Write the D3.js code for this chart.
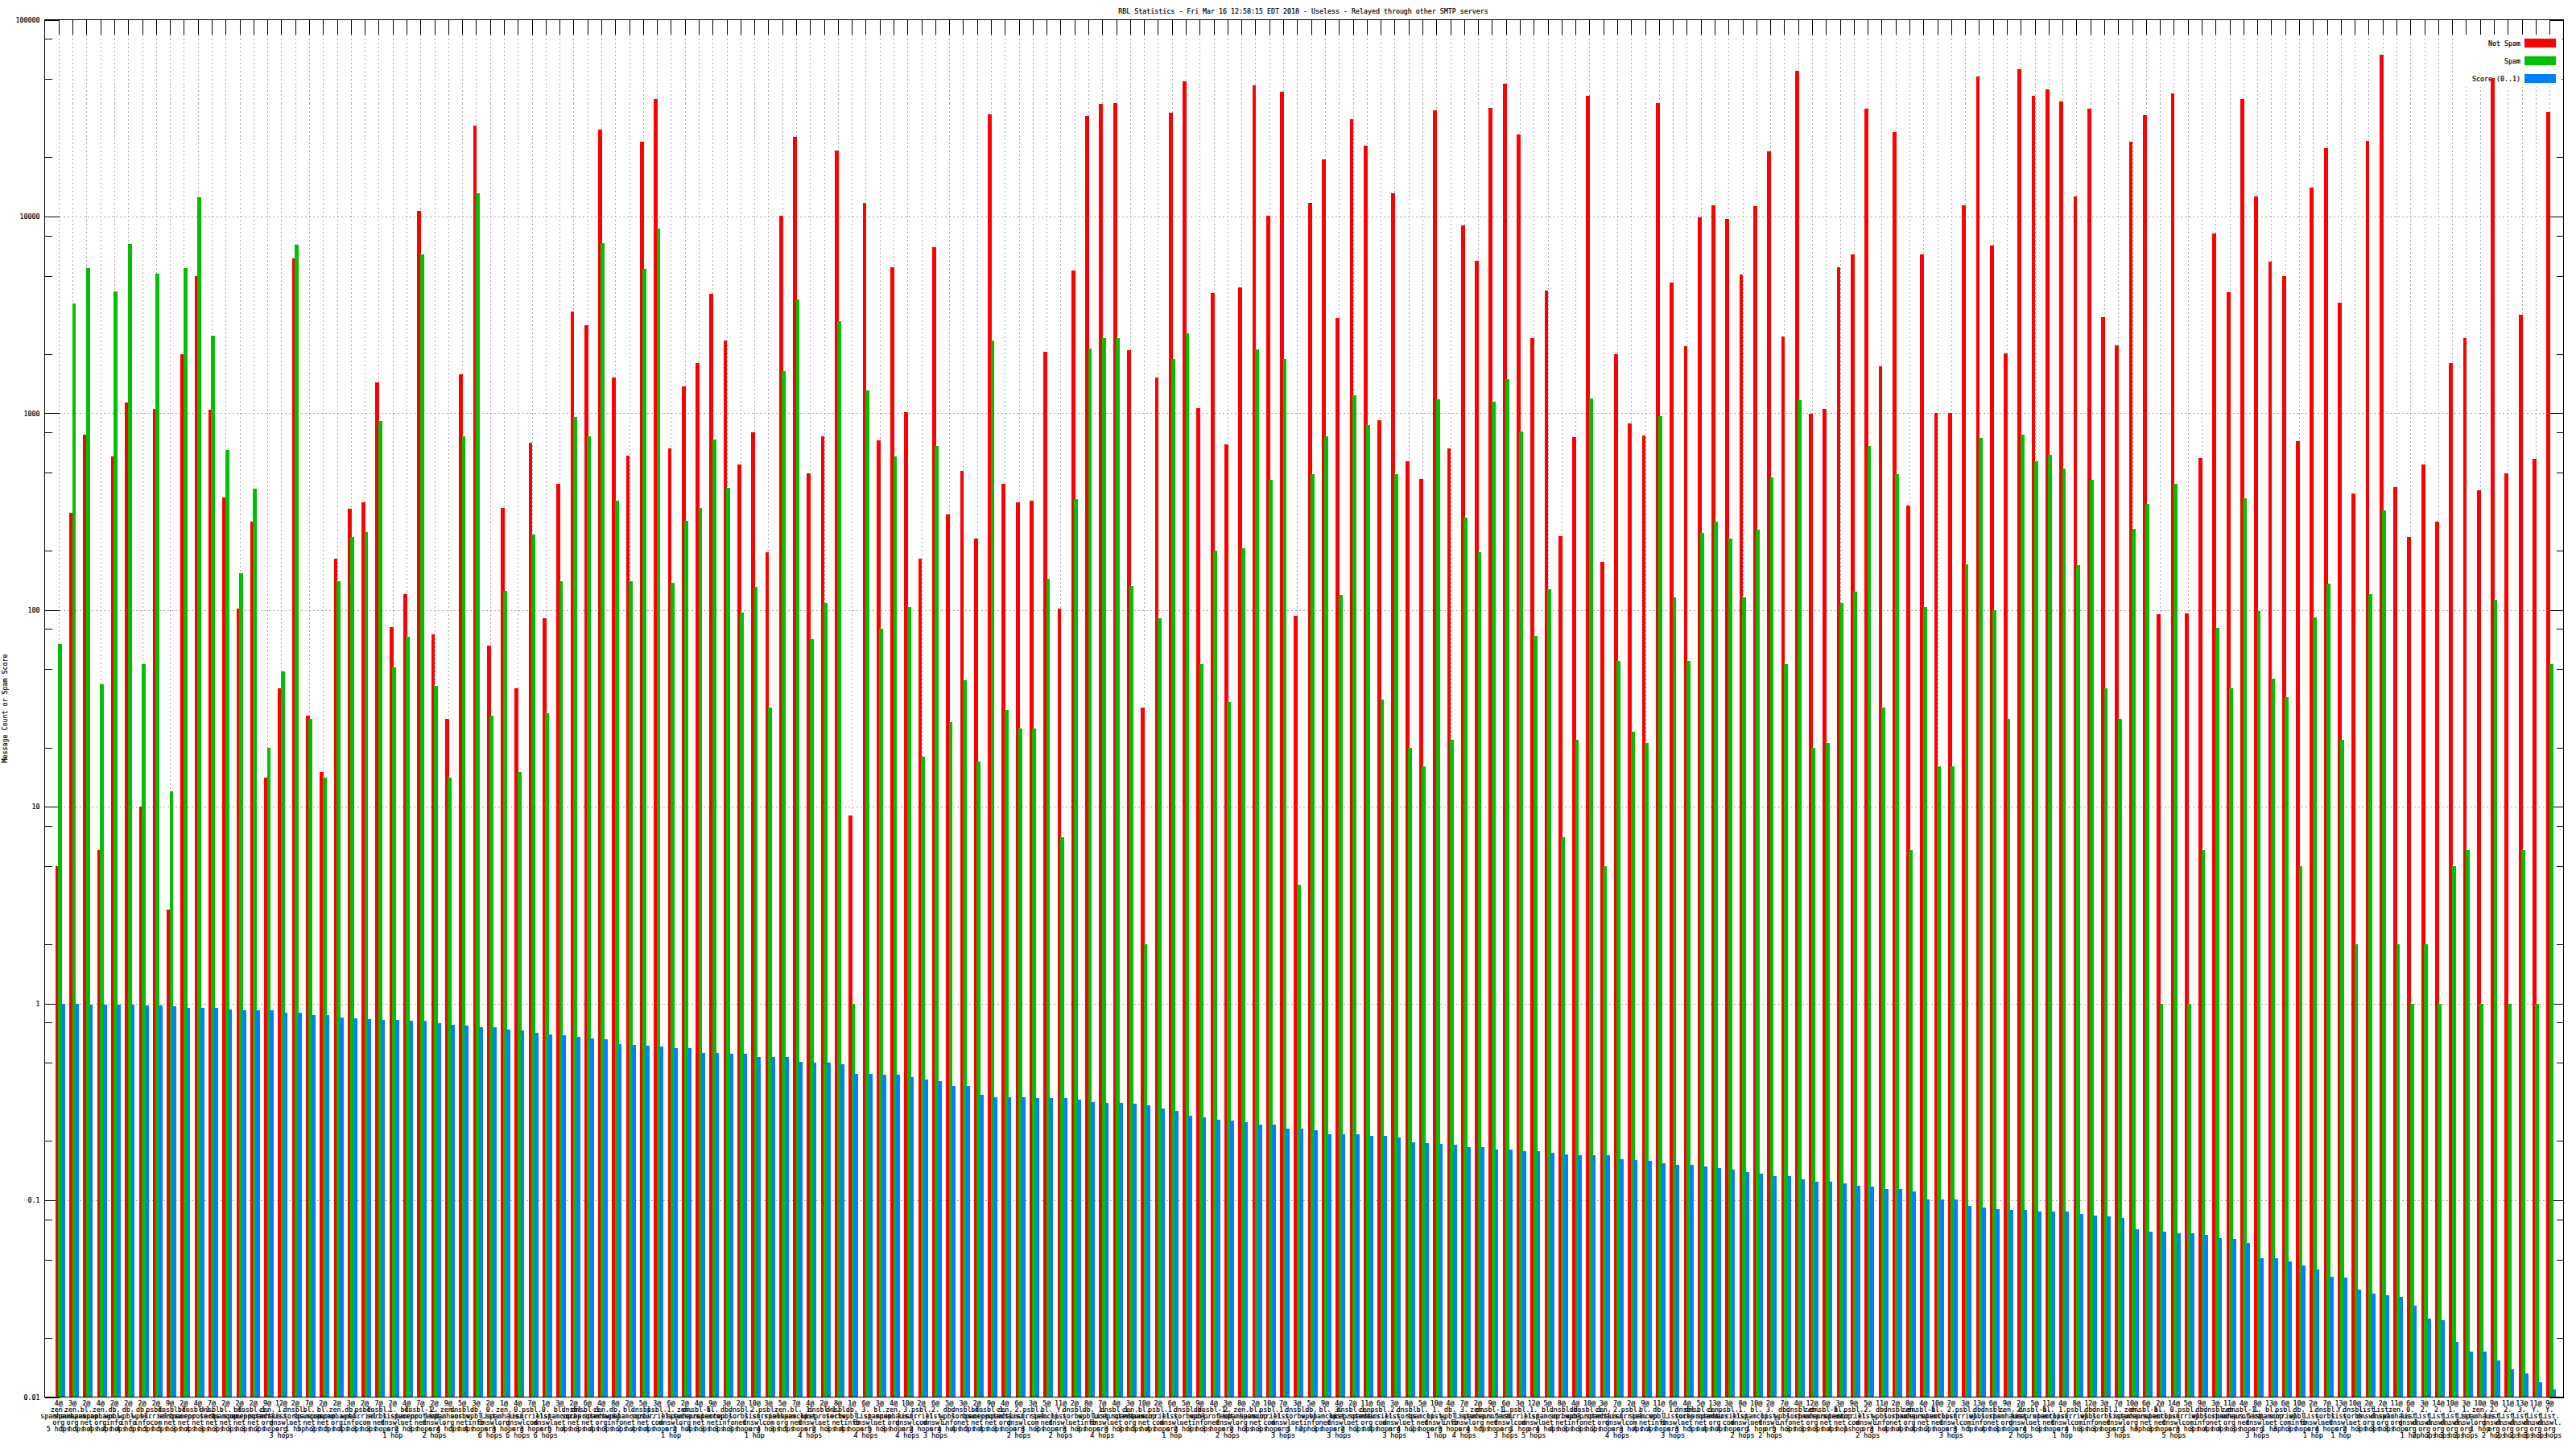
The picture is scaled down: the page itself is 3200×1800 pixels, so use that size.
<!DOCTYPE html>
<html><head><meta charset="utf-8">
<script src="https://cdn.jsdelivr.net/npm/d3@7"></script>
<style>
html,body{margin:0;padding:0;background:#fff}
svg{display:block}
text{font-family:"DejaVu Sans Mono",monospace;font-size:8.3px;fill:#000;stroke:#000;stroke-width:.18px}
</style></head><body><svg id="c" width="3200" height="1800"></svg>
<script>
const notSpam=[5,313,781,6,604,1130,10,1050,3,1990,
4970,1040,373,102,282,14,40,6100,29,15,
182,327,354,1440,82,120,10700,75,28,1570,
29100,66,330,40,705,91,439,3300,2800,27700,
1520,610,24000,39700,663,1375,1800,4050,2350,550,
797,197,10100,25500,497,765,21600,9,11700,727,
5500,1010,182,6980,307,508,230,33000,439,354,
358,2050,102,5340,32300,37300,37700,2090,32,1520,
33600,48700,1060,4100,698,4350,46300,10100,43000,93,
11700,19500,3040,31300,22800,920,13100,568,463,34700,
663,9030,5980,35800,47200,26000,2400,4210,237,758,
40900,176,1990,884,773,37700,4630,2190,9900,11400,
9700,5080,11300,21400,2450,55100,990,1050,5500,6430,
35400,1740,26900,340,6430,1000,1000,11400,51300,7130,
2010,56200,40900,44400,38500,12700,35400,3090,2210,24000,
32600,95,42100,96,592,8230,4130,39700,12700,5920,
4970,720,14000,22300,3660,391,24200,66300,421,235,
550,280,1800,2420,405,50700,497,3160,586,34000];
const spam=[67,3620,5450,42,4170,7270,53,5130,12,5450,
12550,2470,650,154,413,20,49,7200,28,14,
140,235,250,910,51,73,6430,41,14,765,
13100,29,125,15,242,30,140,960,765,7350,
358,140,5400,8650,138,285,330,735,417,97,
131,32,1640,3770,71,109,2950,1,1310,80,
604,104,18,680,27,44,17,2350,31,25,
25,144,7,366,2140,2420,2420,133,2,91,
1890,2550,53,201,34,207,2120,458,1880,4,
492,765,119,1230,875,35,492,20,16,1180,
22,295,197,1140,1490,805,74,128,7,22,
1190,5,55,24,21,970,116,55,247,280,
230,116,255,472,53,1170,20,21,109,124,
685,32,492,6,104,16,16,170,750,100,
28,781,568,617,523,169,458,40,28,258,
347,1,439,1,6,81,40,369,99,45,
36,5,92,136,22,2,120,320,2,1,
2,1,5,6,1,113,1,6,1,53];
const score=[1,1,.99,.99,.99,.99,.98,.98,.97,.95,
.95,.95,.93,.921,.921,.921,.902,.902,.875,.875,
.848,.839,.83,.822,.822,.814,.814,.797,.781,.773,
.758,.758,.735,.727,.712,.698,.69,.676,.663,.656,
.623,.617,.61,.604,.592,.592,.562,.562,.557,.557,
.534,.534,.534,.507,.502,.502,.492,.439,.439,.435,
.435,.422,.413,.404,.38,.38,.343,.333,.333,.333,
.33,.33,.33,.326,.316,.313,.313,.31,.304,.294,
.285,.268,.263,.257,.255,.25,.242,.242,.232,.232,
.228,.216,.216,.216,.212,.212,.209,.197,.195,.193,
.191,.187,.187,.182,.182,.178,.178,.174,.172,.17,
.169,.169,.162,.16,.159,.154,.151,.151,.149,.146,
.143,.139,.136,.133,.133,.128,.124,.124,.122,.119,
.118,.114,.114,.111,.101,.101,.101,.094,.092,.09,
.089,.089,.088,.088,.0875,.085,.084,.083,.081,.071,
.069,.069,.068,.068,.067,.064,.0636,.061,.0507,.0507,
.0487,.0467,.0444,.0409,.0405,.0351,.0337,.033,.0323,.0292,
.025,.0245,.0191,.0171,.0171,.0153,.0139,.0132,.0119,.0109];
const labelCounts=[4,3,2,4,2,2,2,2,9,2,4,7,2,2,2,9,12,2,7,2,
2,3,2,7,2,4,7,2,9,5,3,2,1,4,7,1,3,2,6,4,
8,2,5,3,6,2,4,9,3,2,10,3,5,7,4,2,8,1,6,3,
4,10,2,6,5,3,2,9,4,6,3,5,11,2,8,7,4,3,10,2,
6,5,9,4,3,8,2,10,7,3,5,9,4,2,11,6,3,8,5,10,
4,7,2,9,6,3,12,5,8,4,10,3,7,2,9,11,6,4,5,13,
3,8,10,2,7,4,12,6,3,9,5,11,2,8,4,10,7,3,13,6,
9,2,5,11,4,8,12,3,7,10,6,2,14,5,9,3,11,4,8,13,
6,10,2,7,13,10,2,2,11,6,3,14,10,3,10,9,11,13,11,9];
const labelHostKeys="zzbzwwwpsb"+"usbbuz1sbb"+"zwps1bu2zs"+"w0z0p0bsuz"+"wbsp1zubws"+"2pzb1usw3b"+
"z3p2wsbuz2"+"pbYsw1uzbp"+"1swu2zbp1s"+"wb3uzp2sb1"+"w3zu1p1bsw"+"uz2pbw1suz"+"p1b3wszubp"+
"2wszub2pws"+"z2ub1pws1z"+"ub0pwszu1b"+"pw1sYsddz0"+"2211z223YY";
const labelHops="5554445553"+"4333323152"+"5433123245"+"4636365434"+"3244124333"+"1435423445"+
"3423445432"+"3323343354"+"1233223331"+"2332243421"+"3445315443"+"3243443354"+"4212533341"+
"2344423354"+"3243143331"+"3353344331"+"3314123331"+"2233122233";
const hostNames={z:"zen.spamhaus.org",b:"bl.spamcop.net",w:"db.wpbl.info",p:"psbl.surriel.com",
s:"dnsbl.sorbs.net",u:"dnsbl-1.uceprotect.net",d:"list.dnswl.org","0":"0.list.dnswl.org",
"1":"1.list.dnswl.org","2":"2.list.dnswl.org","3":"3.list.dnswl.org",Y:"Y.list.dnswl.org"};
const yMajor=[100000,10000,1000,100,10,1,0.1,0.01];
const yMinor=[80000,50000,20000,8000,5000,2000,800,500,200,80,50,20,8,5,2,.8,.5,.2,.08,.05,.02];
const titleText="RBL Statistics - Fri Mar 16 12:58:15 EDT 2018 - Useless - Relayed through other SMTP servers";
const yTitle="Message Count or Spam Score";
const seriesNames=["Not Spam","Spam","Score (0..1)"];
const seriesColors=["#ff0000","#00c000","#0080ff"];

const L=55.5,R=3184.5,T=24.5,B=1735.5;
const svg=d3.select("#c");
const ids=d3.range(1,notSpam.length+1);
const x=d3.scaleLinear().domain([0,181]).range([L,R]);
const y=d3.scaleLog().domain([0.01,100000]).range([B,T]);

// grid
const grid=svg.append("g").attr("stroke","#a8a8a8").attr("shape-rendering","crispEdges");
grid.append("g").attr("stroke-dasharray","2,3").selectAll("line").data(ids).join("line").attr("x1",d=>Math.round(x(d))+.5).attr("x2",d=>Math.round(x(d))+.5).attr("y1",T+18).attr("y2",B);
grid.append("g").attr("stroke-dasharray","2,3").selectAll("line").data(yMajor.slice(1,-1)).join("line").attr("x1",L+18).attr("x2",R-18).attr("y1",d=>Math.round(y(d))+.5).attr("y2",d=>Math.round(y(d))+.5);

// axes
function cleanAxis(g){g.select(".domain").remove();g.selectAll("line").attr("stroke","#000").attr("shape-rendering","crispEdges");g.selectAll("text").attr("fill","#000");g.attr("font-family",null).attr("font-size",null);}
svg.append("g").attr("transform",`translate(${L},0)`).call(d3.axisLeft(y).tickValues(yMajor).tickSizeInner(-18).tickSizeOuter(0).tickPadding(6).tickFormat(d=>String(d))).call(cleanAxis);
svg.append("g").attr("transform",`translate(${L},0)`).call(d3.axisLeft(y).tickValues(yMinor).tickSizeInner(-9).tickSizeOuter(0).tickFormat("")).call(cleanAxis);
svg.append("g").attr("transform",`translate(${R},0)`).call(d3.axisRight(y).tickValues(yMajor).tickSizeInner(-18).tickSizeOuter(0).tickFormat("")).call(cleanAxis);
svg.append("g").attr("transform",`translate(${R},0)`).call(d3.axisRight(y).tickValues(yMinor).tickSizeInner(-9).tickSizeOuter(0).tickFormat("")).call(cleanAxis);
svg.append("g").attr("transform",`translate(0,${T})`).call(d3.axisTop(x).tickValues(ids).tickSizeInner(-18).tickSizeOuter(0).tickFormat("")).call(cleanAxis);

// legend box hides grid and ticks underneath
const leg=svg.append("g");
leg.append("rect").attr("x",3063).attr("y",T+18.5).attr("width",R-18-3063+16).attr("height",108-43).attr("fill","#fff");

// bars
const offsets=[-3.9,-0.5,3.3], barW=4.8;
const base=y(0.01);
[notSpam,spam,score].forEach((vals,s)=>{
  svg.append("g").attr("fill",seriesColors[s]).attr("shape-rendering","crispEdges")
   .selectAll("rect").data(vals).join("rect")
   .attr("x",(d,i)=>x(i+1)+offsets[s]).attr("width",barW)
   .attr("y",d=>y(d)).attr("height",d=>base-y(d));
});

// frame
svg.append("rect").attr("x",L).attr("y",T).attr("width",R-L).attr("height",B-T).attr("fill","none").attr("stroke","#000").attr("shape-rendering","crispEdges");

// legend contents
const legY=[53.5,75.5,97.5];
seriesNames.forEach((n,i)=>{
  leg.append("text").attr("x",3131).attr("y",legY[i]+3).attr("text-anchor","end").text(n);
  leg.append("rect").attr("x",3136).attr("y",legY[i]-5.5).attr("width",39).attr("height",11).attr("fill",seriesColors[i]).attr("shape-rendering","crispEdges");
});

// x labels
const labs=svg.append("g").attr("text-anchor","middle");
ids.forEach((id,i)=>{
  const hop=+labelHops[i];
  const parts=hostNames[labelHostKeys[i]].split(".");
  const rows=[labelCounts[i]+"@"].concat(parts.map((p,k)=>k<parts.length-1?p+".":p),[hop+(hop===1?" hop":" hops")]);
  const t=labs.append("text").attr("transform",`translate(${x(id)},1746)`);
  rows.forEach((r,k)=>t.append("tspan").attr("x",0).attr("y",k*8).text(r));
});

// titles
svg.append("text").attr("x",1619).attr("y",17).attr("text-anchor","middle").text(titleText);
svg.append("text").attr("transform","translate(9,880) rotate(-90)").attr("text-anchor","middle").text(yTitle);
</script></body></html>
